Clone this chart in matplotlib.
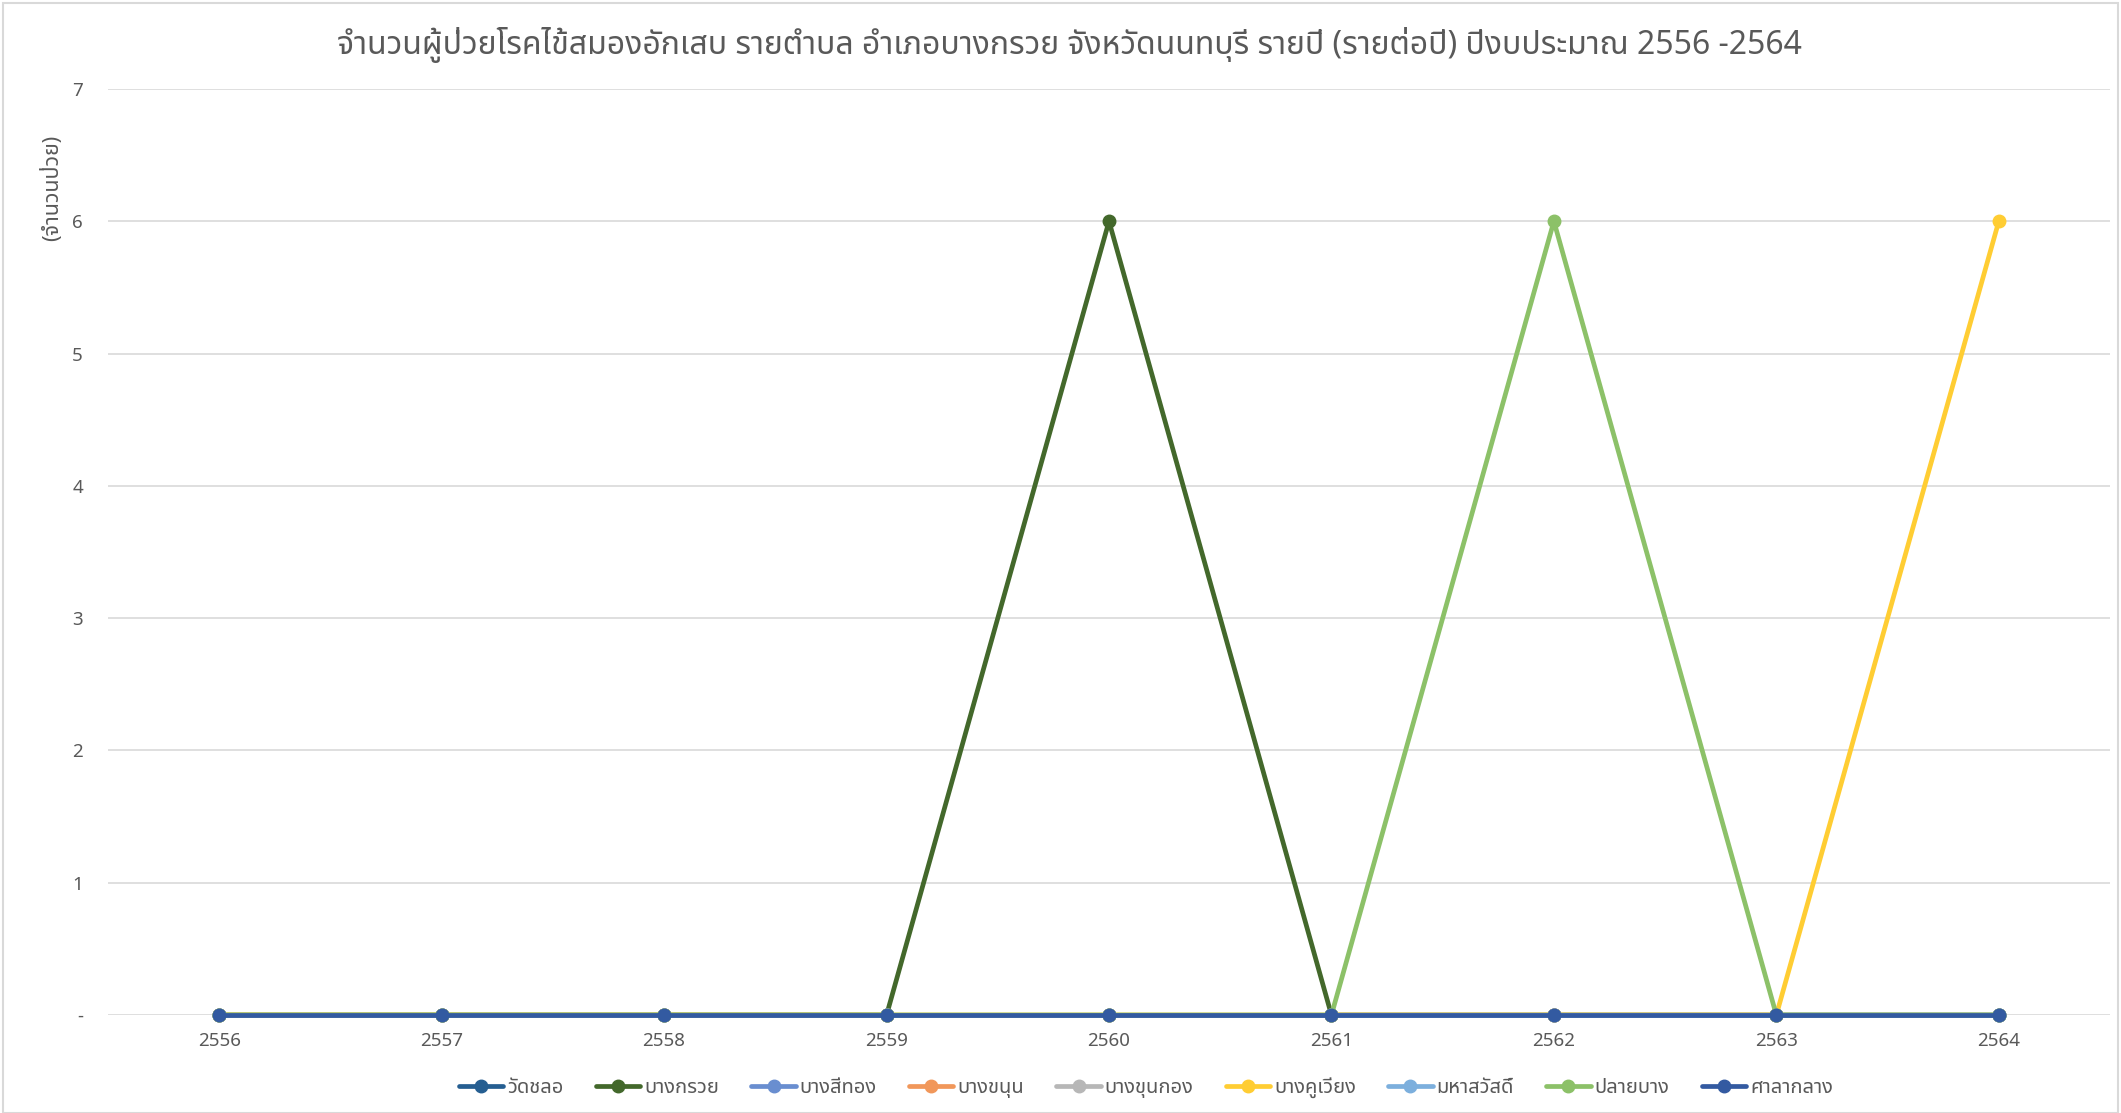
import matplotlib
matplotlib.use("Agg")
import matplotlib.pyplot as plt
from matplotlib.ticker import FuncFormatter

plt.rcParams['font.family'] = ['Noto Sans', 'Noto Sans Thai', 'DejaVu Sans']

# ข้อมูล
years = ['2556', '2557', '2558', '2559', '2560', '2561', '2562', '2563', '2564']
tambons = ['วัดชลอ', 'บางกรวย', 'บางสีทอง', 'บางขนุน', 'บางขุนกอง',
           'บางคูเวียง', 'มหาสวัสดิ์', 'ปลายบาง', 'ศาลากลาง']
wat_chalo = [0, 0, 0, 0, 0, 0, 0, 0, 0]
bang_kruai = [0, 0, 0, 0, 6, 0, 0, 0, 0]
bang_si_thong = [0, 0, 0, 0, 0, 0, 0, 0, 0]
bang_khanun = [0, 0, 0, 0, 0, 0, 0, 0, 0]
bang_khun_kong = [0, 0, 0, 0, 0, 0, 0, 0, 0]
bang_khu_wiang = [0, 0, 0, 0, 0, 0, 0, 0, 6]
maha_sawat = [0, 0, 0, 0, 0, 0, 0, 0, 0]
plai_bang = [0, 0, 0, 0, 0, 0, 6, 0, 0]
sala_klang = [0, 0, 0, 0, 0, 0, 0, 0, 0]
series = [wat_chalo, bang_kruai, bang_si_thong, bang_khanun, bang_khun_kong,
          bang_khu_wiang, maha_sawat, plai_bang, sala_klang]
colors = ['#255E91', '#43682B', '#698ED0', '#F1975A', '#B7B7B7',
          '#FFCD33', '#7CAFDD', '#8CC168', '#335AA1']

fig = plt.figure(figsize=(21.21, 11.13), dpi=100)
ax = fig.add_axes([108/2121, 1 - 1015/1113, (2110 - 108)/2121, (1015 - 89)/1113])

x = list(range(len(years)))
for vals, name, c in zip(series, tambons, colors):
    ax.plot(x, vals, color=c, linewidth=3.4, marker='o', markersize=9,
            label=name, solid_capstyle='round', clip_on=False, zorder=3)

ax.set_xlim(-0.5, len(years) - 0.5)
ax.set_ylim(0, 7)
ax.set_xticks(x)
ax.set_xticklabels(years)
ax.set_yticks(range(0, 8))
ax.yaxis.set_major_formatter(FuncFormatter(lambda v, p: '-' if v == 0 else '%d' % v))
ax.tick_params(length=0, labelsize=13.5, labelcolor='#595959')
ax.tick_params(axis='x', pad=12)
ax.tick_params(axis='y', pad=18)
ax.grid(axis='y', color='#D9D9D9', linewidth=1.2)
ax.set_axisbelow(True)
for s in ax.spines.values():
    s.set_visible(False)

fig.text(52/2121, 1 - 188/1113, '(จำนวนป่วย)', rotation=90, ha='center', va='center',
         fontsize=15.5, color='#595959')
fig.text(1069/2121, 1 - 45/1113,
         'จำนวนผู้ป่วยโรคไข้สมองอักเสบ รายตำบล อำเภอบางกรวย จังหวัดนนทบุรี รายปี (รายต่อปี) ปีงบประมาณ 2556 -2564',
         ha='center', va='center', fontsize=23, color='#595959')

fig.legend(loc='center', bbox_to_anchor=(1146/2121, 1 - 1088/1113), ncol=9,
           frameon=False, fontsize=14.5, labelcolor='#595959', handlelength=2.2,
           handletextpad=0.2, columnspacing=1.6)

# กรอบภาพ
fig.patches.append(plt.Rectangle((3/2121, 0), 1 - 6/2121, 1 - 3/1113, transform=fig.transFigure,
                                 fill=False, edgecolor='#D9D9D9', linewidth=1.5))

fig.savefig("out.png", dpi=100)
